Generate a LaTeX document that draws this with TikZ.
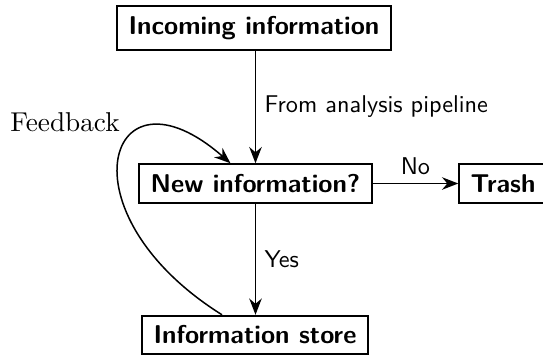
\documentclass[tikz,border=0pt]{standalone}
\usepackage{fontspec}
\usetikzlibrary{arrows.meta}
\begin{document}
\begin{tikzpicture}[x=0.4pt, y=-0.4pt,
  box/.style={draw, line width=0.8pt, inner xsep=4.5pt, inner ysep=4pt,
    font=\fontsize{10.3pt}{12pt}\selectfont\sffamily\bfseries},
  flow/.style={line width=0.6pt, -{Stealth[length=6.5pt, width=5pt]}},
  lbl/.style={font=\fontsize{9.7pt}{11.5pt}\selectfont\sffamily},
  note/.style={font=\fontsize{10.9pt}{13pt}\selectfont}]
  \useasboundingbox (0,0) rectangle (543,355);

  \node[box] (inc)   at (254,28)    {Incoming information};
  \node[box] (new)   at (255.5,183.5) {New information?};
  \node[box] (trash) at (503,183.5) {Trash};
  \node[box] (store) at (255,335)   {Information store};
  \node[note] (fb) at (65,122) {Feedback};

  \draw[flow] (inc.south -| new) -- node[lbl, right] {From analysis pipeline} (new);
  \draw[flow] (new) -- node[lbl, above] {No} (trash);
  \draw[flow] (new) -- node[lbl, right] {Yes} (store.north -| new);

  % feedback loop from the store back into the test
  \coordinate (fbstart) at ([xshift=-13.2pt]store.north);
  \coordinate (fbend)   at ([xshift=-10pt]new.north);
  \draw[flow] (fbstart) .. controls (58,212) and (108,56) .. (fbend);
\end{tikzpicture}
\end{document}
